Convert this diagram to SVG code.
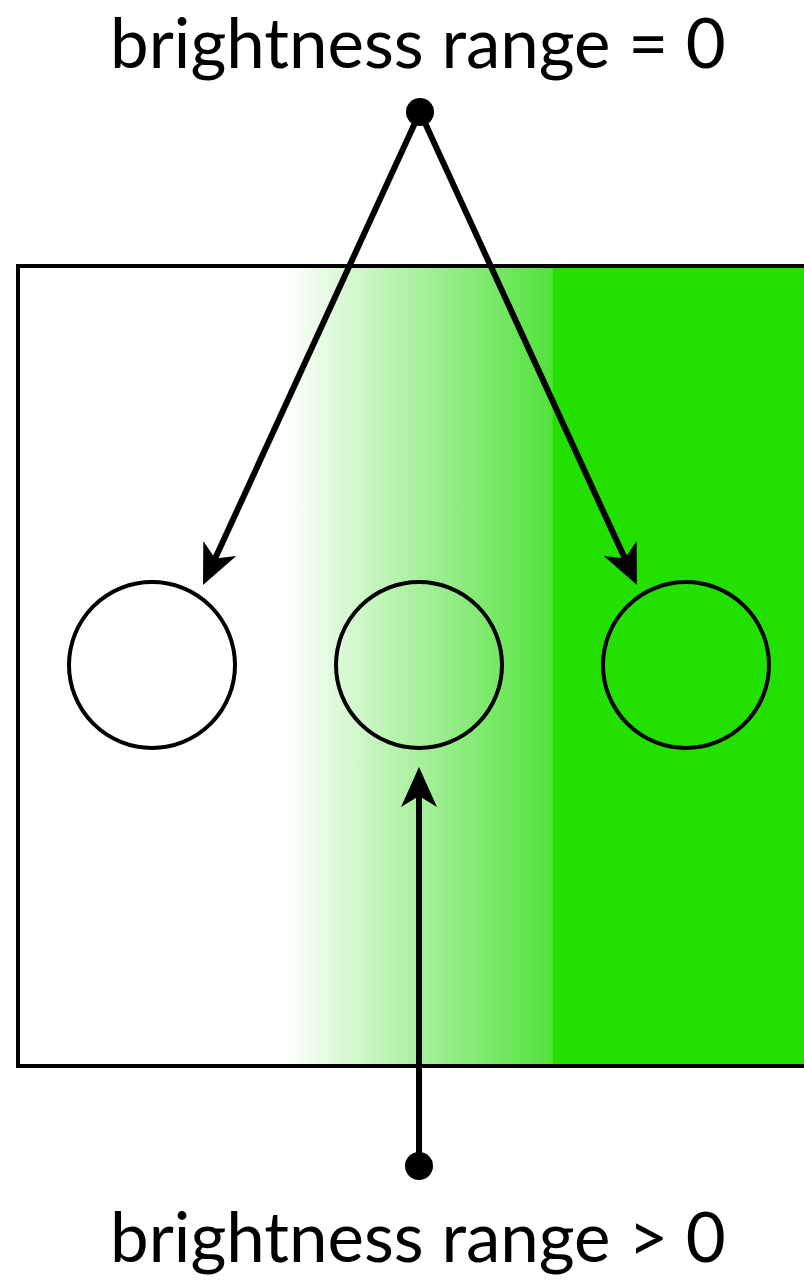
<svg xmlns="http://www.w3.org/2000/svg" width="804" height="1283" viewBox="0 0 804 1283">
<style>
.lbl{font-family:Lato,"Liberation Sans",sans-serif;font-size:69px;fill:#000;text-anchor:middle}
.ln{stroke:#000;stroke-width:6;fill:none}
.c{stroke:#000;stroke-width:4;fill:none}
</style>
<defs>
<linearGradient id="g" gradientUnits="userSpaceOnUse" x1="0" y1="0" x2="804" y2="0">
<stop offset="0.355" stop-color="#ffffff"/>
<stop offset="0.687" stop-color="#52e23c"/>
<stop offset="0.688" stop-color="#22e000"/>
<stop offset="1" stop-color="#22e000"/>
</linearGradient>
<marker id="ah" viewBox="0 0 40 36" refX="22" refY="18" markerWidth="40" markerHeight="36" markerUnits="userSpaceOnUse" orient="auto">
<path d="M0,0 L40,18 L0,36 L11,18 Z" fill="#000"/>
</marker>
</defs>
<g id="panel">
<rect x="18" y="266" width="800" height="800" fill="url(#g)" stroke="#000" stroke-width="4"/>
</g>
<g id="circle-left"><circle class="c" cx="152" cy="665" r="83"/></g>
<g id="circle-mid"><circle class="c" cx="419" cy="665" r="83"/></g>
<g id="circle-right"><circle class="c" cx="686" cy="665" r="83"/></g>
<g id="connectors">
<line class="ln" x1="420" y1="112" x2="210.5" y2="568.6" marker-end="url(#ah)"/>
<line class="ln" x1="420" y1="112" x2="629.5" y2="568.6" marker-end="url(#ah)"/>
<line class="ln" x1="419" y1="1166" x2="419" y2="785" marker-end="url(#ah)"/>
<circle cx="420" cy="112" r="14" fill="#000"/>
<circle cx="419" cy="1166" r="14" fill="#000"/>
</g>
<g id="label-top"><text class="lbl" x="418" y="68">brightness range = 0</text></g>
<g id="label-bottom"><text class="lbl" x="418" y="1262">brightness range &gt; 0</text></g>
</svg>
